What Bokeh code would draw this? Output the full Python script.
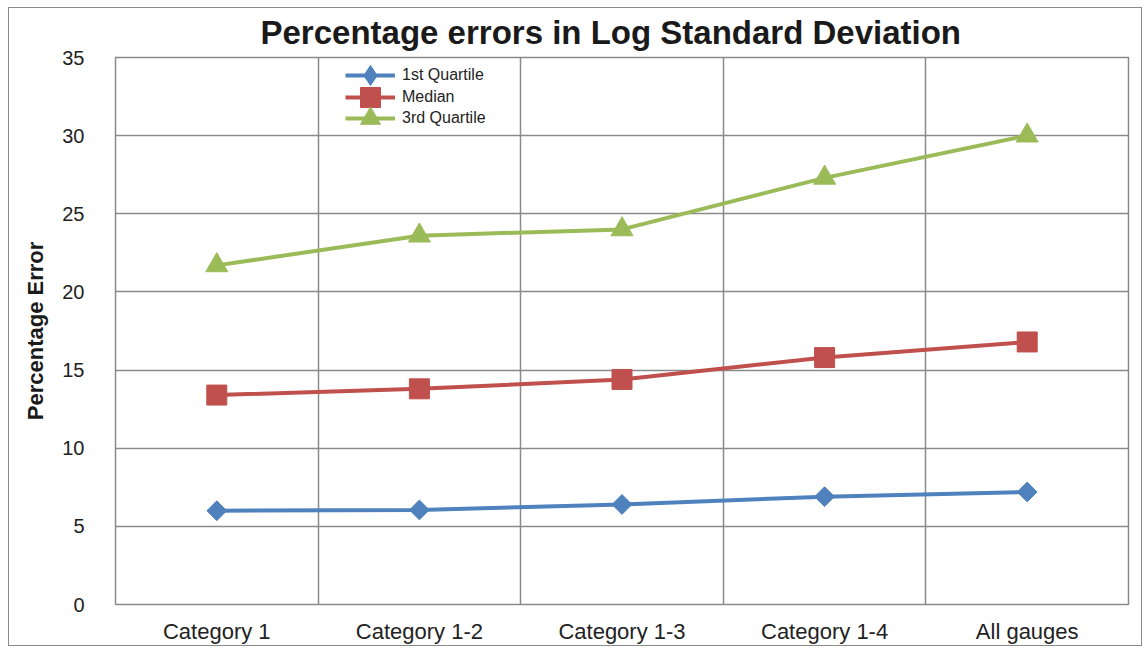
import math
from bokeh.plotting import figure
from bokeh.models import FixedTicker, Legend, LegendItem
from bokeh.embed import file_html
from bokeh.resources import INLINE

categories = ["Category 1", "Category 1-2", "Category 1-3", "Category 1-4", "All gauges"]
first_quartile = [6.0, 6.05, 6.4, 6.9, 7.2]
median = [13.4, 13.8, 14.4, 15.8, 16.8]
third_quartile = [21.7, 23.6, 24.0, 27.3, 30.0]
series_names = ["1st Quartile", "Median", "3rd Quartile"]
y_ticks = [0, 5, 10, 15, 20, 25, 30, 35]

x = list(range(1, len(categories) + 1))
boundaries = [i + 0.5 for i in x[:-1]]

FONT = "Liberation Sans"
GRID = "#8a8a8a"

p = figure(width=1134, height=639, x_range=(0.5, 5.5), y_range=(0, 35),
           output_backend="svg", toolbar_location=None,
           min_border_left=106, min_border_right=15, min_border_top=49, min_border_bottom=43,
           title="Percentage errors in Log Standard Deviation")
p.margin = (7, 0, 0, 8)
p.styles = {"border": "1px solid #8a8a8a"}

p.title.text_font = FONT
p.title.text_font_size = "33px"
p.title.text_font_style = "bold"
p.title.text_color = "#1a1a1a"
p.title.align = "left"
p.title.offset = 145
p.title.standoff = 10
p.title.vertical_align = "top"

p.outline_line_color = GRID
p.outline_line_width = 1.5

p.xaxis.ticker = FixedTicker(ticks=x)
p.xaxis.major_label_overrides = {i: c for i, c in zip(x, categories)}
p.yaxis.ticker = FixedTicker(ticks=y_ticks)
for ax in (p.xaxis[0], p.yaxis[0]):
    ax.axis_line_color = None
    ax.major_tick_line_color = None
    ax.minor_tick_line_color = None
    ax.major_label_text_font = FONT
    ax.major_label_text_color = "#222222"
p.xaxis.major_label_text_font_size = "22px"
p.yaxis.major_label_text_font_size = "20px"
p.xaxis.major_label_standoff = 8
p.yaxis.major_label_standoff = 25
p.yaxis.axis_label = "Percentage Error"
p.yaxis.axis_label_text_font = FONT
p.yaxis.axis_label_text_font_size = "22px"
p.yaxis.axis_label_text_font_style = "bold"
p.yaxis.axis_label_text_color = "#1a1a1a"
p.yaxis.axis_label_standoff = 11

p.xgrid.ticker = FixedTicker(ticks=boundaries)
p.ygrid.ticker = FixedTicker(ticks=y_ticks)
for g in (p.xgrid[0], p.ygrid[0]):
    g.grid_line_color = GRID
    g.grid_line_width = 1.5

blue, red, green = "#4f81bd", "#c0504d", "#9bbb59"

l1 = p.line(x, first_quartile, line_color=blue, line_width=4)
s1 = p.scatter(x, first_quartile, marker="square", angle=math.pi / 4, size=14,
               fill_color=blue, line_color=blue)
# hidden twin of the 1st-quartile markers, used only for the legend's diamond shape
k1 = p.scatter(x, first_quartile, marker="diamond", size=20,
               fill_color=blue, line_color=blue, visible=False)
l2 = p.line(x, median, line_color=red, line_width=4)
s2 = p.scatter(x, median, marker="square", size=20, fill_color=red, line_color=red)
l3 = p.line(x, third_quartile, line_color=green, line_width=4)
s3 = p.scatter(x, third_quartile, marker="triangle", size=22,
               fill_color=green, line_color=green)

rows = [(series_names[0], [l1, k1], 504),
        (series_names[1], [l2, s2], 482),
        (series_names[2], [l3, s3], 461)]
for name, rends, ybot in rows:
    lg = Legend(items=[LegendItem(label=name, renderers=rends)], location=(230, ybot),
                padding=0, margin=0, spacing=0, label_height=50, glyph_height=50,
                glyph_width=50, label_standoff=7, border_line_alpha=0,
                background_fill_alpha=0, label_text_font=FONT,
                label_text_font_size="16px", label_text_color="#222222")
    p.add_layout(lg, "center")

open("out.html", "w").write(file_html(p, INLINE))
